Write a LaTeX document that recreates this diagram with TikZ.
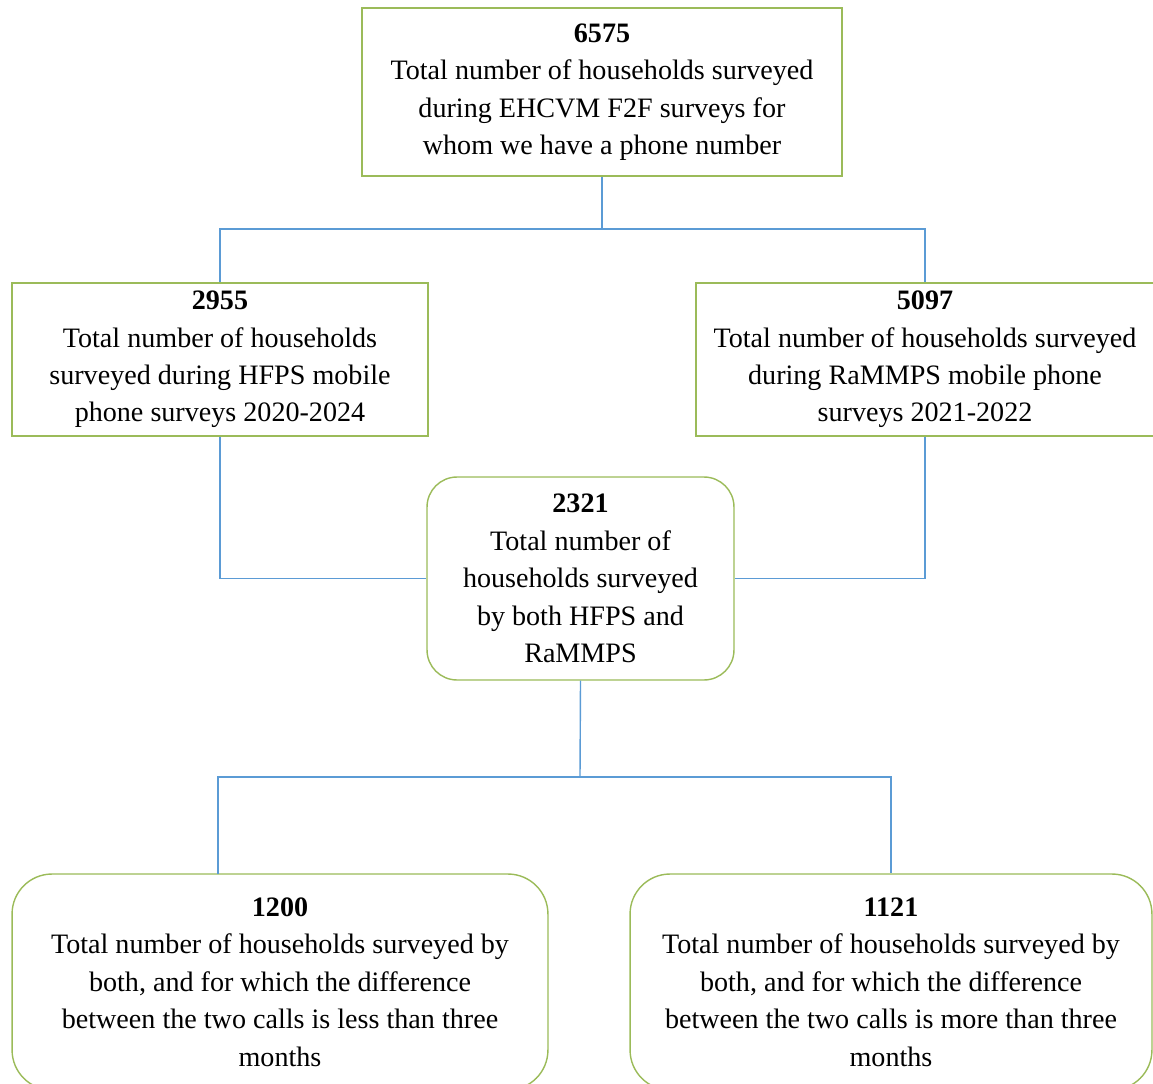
\documentclass[tikz,border=0pt]{standalone}
\usepackage{fontspec}
\setmainfont{Liberation Serif}
\definecolor{boxgreen}{RGB}{155,187,89}
\definecolor{linkblue}{RGB}{91,155,213}
\usepackage{tikz}
\usetikzlibrary{positioning}

\begin{document}
\begin{tikzpicture}[
  x=0.02cm,y=-0.02cm,
  font=\fontsize{16}{21.3}\selectfont,
  sqbox/.style={draw=boxgreen,line width=0.8pt,fill=white,align=center,inner sep=0pt},
  rdbox/.style={sqbox,rounded corners=0.6cm},
  link/.style={draw=linkblue,line width=0.8pt}
]
\useasboundingbox (0,0) rectangle (1153,1084);
\node[sqbox,minimum width=9.6cm,minimum height=3.36cm] (hh) at (602,92)
  {\textbf{6575}\\Total number of households surveyed\\during EHCVM F2F surveys for\\whom we have a phone number};
\node[sqbox,minimum width=8.32cm,minimum height=3.06cm] (hfps) at (220,359.5)
  {\textbf{2955}\\Total number of households\\surveyed during HFPS mobile\\phone surveys 2020-2024};
\node[sqbox,minimum width=9.16cm,minimum height=3.06cm] (ram) at (925,359.5)
  {\textbf{5097}\\Total number of households surveyed\\during RaMMPS mobile phone\\surveys 2021-2022};
\node[rdbox,minimum width=6.14cm,minimum height=4.06cm] (both) at (580.5,578.5)
  {\textbf{2321}\\Total number of\\households surveyed\\by both HFPS and\\RaMMPS};
\node[rdbox,rounded corners=0.8cm,minimum width=10.72cm,minimum height=4.32cm] (less) at (280,982)
  {\textbf{1200}\\Total number of households surveyed by\\both, and for which the difference\\between the two calls is less than three\\months};
\node[rdbox,rounded corners=0.8cm,minimum width=10.44cm,minimum height=4.32cm] (more) at (891,982)
  {\textbf{1121}\\Total number of households surveyed by\\both, and for which the difference\\between the two calls is more than three\\months};
% joints of the links
\coordinate (j1) at (602,229);
\coordinate (j2) at (580,777);
\coordinate (lessin) at (218,874);
\draw[link] (hh.south) -- (j1);
\draw[link] (j1) -| (hfps.north);
\draw[link] (j1) -| (ram.north);
\draw[link] (hfps.south) |- (both.west);
\draw[link] (ram.south) |- (both.east);
\draw[link] (both.south) -- (j2);
\draw[link] (j2) -| (lessin);
\draw[link] (j2) -| (more.north);
\end{tikzpicture}
\end{document}
